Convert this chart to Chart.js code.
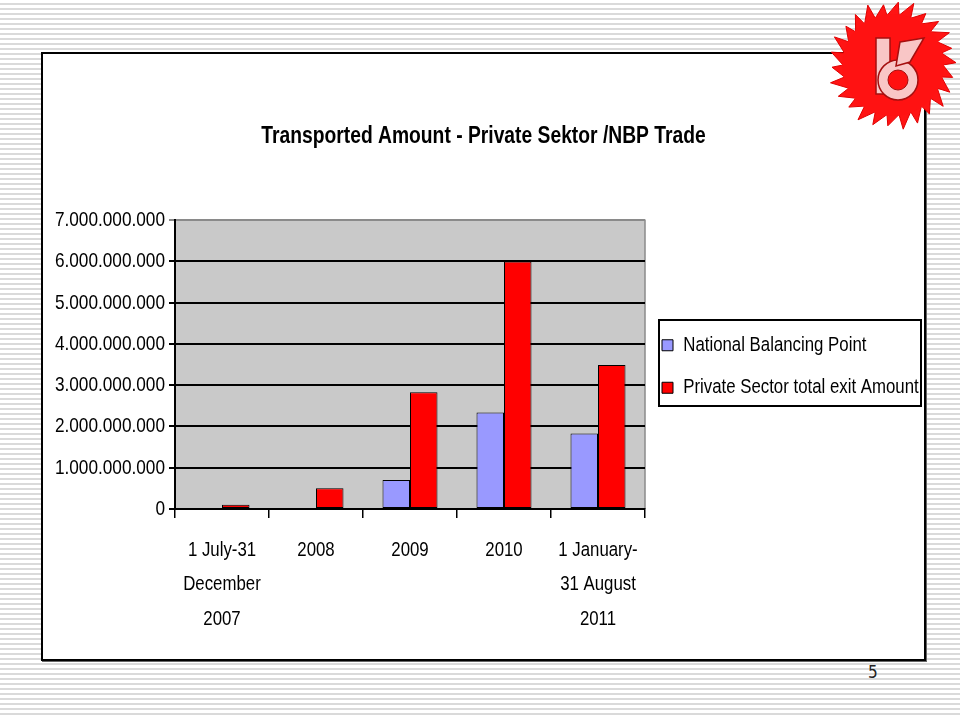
<!DOCTYPE html>
<html>
<head>
<meta charset="utf-8">
<script src="https://cdn.jsdelivr.net/npm/chart.js@4.4.1/dist/chart.umd.min.js"></script>
<style>
  html, body { margin: 0; padding: 0; }
  body {
    width: 960px; height: 717px; position: relative; overflow: hidden;
    background: repeating-linear-gradient(to bottom, #ffffff 0px, #ffffff 3px, #dadada 3px, #dadada 5px);
  }
  #frame {
    position: absolute; left: 41px; top: 52px; width: 885px; height: 609px;
    box-sizing: border-box; border: 2px solid #000; background: #fff;
    box-shadow: 1px 1px 0 #666;
  }
  #chart { position: absolute; left: 0; top: 0; }
  #logo { position: absolute; left: 826px; top: 0; }
  #page {
    position: absolute; left: 868px; top: 662px;
    font: 17px "DejaVu Sans Condensed", sans-serif; color: #222;
  }
</style>
</head>
<body>
<div id="frame"><canvas id="chart" width="881" height="605"></canvas></div>
<svg id="logo" width="134" height="132" viewBox="0 0 134 132"></svg>
<div id="page">5</div>
<script>
// 資料
const categories = [["1 July-31", "December", "2007"], "2008", "2009", "2010", ["1 January-", "31 August", "2011"]];
const nbpValues = [0, 0, 700000000, 2340000000, 1830000000];
const privateValues = [100000000, 500000000, 2830000000, 6000000000, 3490000000];
const yTickLabels = ["0", "1.000.000.000", "2.000.000.000", "3.000.000.000", "4.000.000.000", "5.000.000.000", "6.000.000.000", "7.000.000.000"];

const FONT = '"Liberation Sans", Arial, sans-serif';
const SQUEEZE = 0.82; // 模擬窄體字

// 標誌（鋸齒圓）
function drawLogo() {
  const svg = document.getElementById("logo");
  const cx = 67, cy = 65;
  let pts = [];
  const n = 26;
  for (let i = 0; i < n; i++) {
    const a = (i / n) * Math.PI * 2;
    const a2 = ((i + 0.85) / n) * Math.PI * 2;
    const r2 = 61 + (i % 3) * 2;
    pts.push((cx + 50 * Math.cos(a)).toFixed(1) + "," + (cy + 50 * Math.sin(a)).toFixed(1));
    pts.push((cx + r2 * Math.cos(a2)).toFixed(1) + "," + (cy + r2 * Math.sin(a2)).toFixed(1));
  }
  svg.innerHTML = `
    <polygon points="${pts.join(" ")}" fill="#ff1414" stroke="#e00000" stroke-width="1"/>
    <circle cx="${cx}" cy="${cy}" r="51" fill="#ff1212"/>
    <g fill="#f9c6c6" stroke="#a50f0f" stroke-width="1.5">
      <path d="M50 38 L64 38 L64 94 L50 94 Z"/>
      <circle cx="72" cy="80" r="20"/>
      <path d="M74 42 L98 38 L84 62 L70 66 Z"/>
    </g>
    <circle cx="72" cy="80" r="10" fill="#ff1010" stroke="#a50f0f" stroke-width="1"/>
  `;
}
drawLogo();

// 窄體字：水平壓縮文字
const ctx = document.getElementById("chart").getContext("2d");
const rawFill = ctx.fillText.bind(ctx);
const rawMeasure = ctx.measureText.bind(ctx);
ctx.fillText = function (text, x, y, maxWidth) {
  this.save();
  this.translate(x, y);
  this.scale(SQUEEZE, 1);
  if (maxWidth !== undefined) rawFill(text, 0, 0, maxWidth / SQUEEZE);
  else rawFill(text, 0, 0);
  this.restore();
};
ctx.measureText = function (text) {
  const m = rawMeasure(text);
  return {
    width: m.width * SQUEEZE,
    actualBoundingBoxAscent: m.actualBoundingBoxAscent,
    actualBoundingBoxDescent: m.actualBoundingBoxDescent,
    actualBoundingBoxLeft: m.actualBoundingBoxLeft * SQUEEZE,
    actualBoundingBoxRight: m.actualBoundingBoxRight * SQUEEZE
  };
};

// 繪圖區背景
const plotBackground = {
  id: "plotBackground",
  beforeDraw(chart) {
    const { ctx, chartArea: a } = chart;
    ctx.save();
    ctx.fillStyle = "#c9c9c9";
    ctx.fillRect(a.left, a.top, a.right - a.left, a.bottom - a.top);
    ctx.strokeStyle = "#8a8a8a";
    ctx.lineWidth = 1.5;
    ctx.beginPath();
    ctx.moveTo(a.left, a.top);
    ctx.lineTo(a.right, a.top);
    ctx.lineTo(a.right, a.bottom);
    ctx.stroke();
    ctx.restore();
  }
};

// 圖例寬度固定、位置微調
const legendPlace = {
  id: "legendPlace",
  beforeLayout(chart) {
    const lg = chart.legend;
    if (lg && !lg._fixedWidth) {
      const fit = lg.fit.bind(lg);
      lg.fit = function () { fit(); this.width = 279; };
      lg._fixedWidth = true;
    }
  },
  afterLayout(chart) {
    chart.legend.top += 10;
    chart.legend.bottom += 10;
    chart.legend.left -= 5;
    chart.legend.right -= 5;
  }
};

// 圖例外框
const legendBox = {
  id: "legendBox",
  afterDraw(chart) {
    const boxes = chart.legend.legendHitBoxes;
    if (!boxes || !boxes.length) return;
    const left = Math.min(...boxes.map(b => b.left)) - 3;
    const right = Math.max(...boxes.map(b => b.left + b.width)) + 2;
    const top = Math.min(...boxes.map(b => b.top)) - 15;
    const bottom = Math.max(...boxes.map(b => b.top + b.height)) + 8;
    const { ctx } = chart;
    ctx.save();
    ctx.strokeStyle = "#000";
    ctx.lineWidth = 2;
    ctx.strokeRect(Math.round(left), Math.round(top), Math.round(right - left), Math.round(bottom - top));
    ctx.restore();
  }
};

new Chart(ctx, {
  type: "bar",
  data: {
    labels: categories,
    datasets: [
      {
        label: "National Balancing Point",
        data: nbpValues,
        backgroundColor: "#9999ff",
        borderColor: "#000",
        borderWidth: 1,
        borderSkipped: false,
        categoryPercentage: 0.585,
        barPercentage: 1
      },
      {
        label: "Private Sector total exit Amount",
        data: privateValues,
        backgroundColor: "#ff0000",
        borderColor: "#000",
        borderWidth: 1,
        borderSkipped: false,
        categoryPercentage: 0.585,
        barPercentage: 1
      }
    ]
  },
  options: {
    responsive: false,
    animation: false,
    layout: { padding: { left: 0, right: 0, top: 0, bottom: 0 } },
    plugins: {
      title: {
        display: true,
        text: "Transported Amount - Private Sektor /NBP Trade",
        color: "#000",
        font: { family: FONT, size: 23.5, weight: "bold", lineHeight: 1.2 },
        padding: { top: 68, bottom: 70 }
      },
      legend: {
        position: "right",
        labels: {
          color: "#000",
          font: { family: FONT, size: 20.5, lineHeight: 1.2 },
          boxWidth: 11,
          boxHeight: 11,
          padding: 22
        }
      },
      tooltip: { enabled: false }
    },
    scales: {
      x: {
        grid: { display: true, drawOnChartArea: false, drawTicks: true, tickLength: 9, color: "#000", lineWidth: 1.5, offset: true },
        border: { color: "#000", width: 2 },
        ticks: {
          color: "#000",
          font: { family: FONT, size: 20.5, lineHeight: 1.68 },
          padding: 15,
          maxRotation: 0,
          autoSkip: false
        },
        afterFit(scale) { scale.height = 150; }
      },
      y: {
        min: 0,
        max: 7000000000,
        grid: {
          color: c => (c.tick && c.tick.value === 7000000000 ? "#8a8a8a" : "#000"),
          lineWidth: 2,
          tickLength: 6
        },
        border: { color: "#000", width: 2 },
        ticks: {
          stepSize: 1000000000,
          color: "#000",
          font: { family: FONT, size: 21 },
          padding: 4,
          callback: (v, i) => yTickLabels[i]
        },
        afterFit(scale) { scale.width = 132; }
      }
    }
  },
  plugins: [plotBackground, legendPlace, legendBox]
});
</script>
</body>
</html>
